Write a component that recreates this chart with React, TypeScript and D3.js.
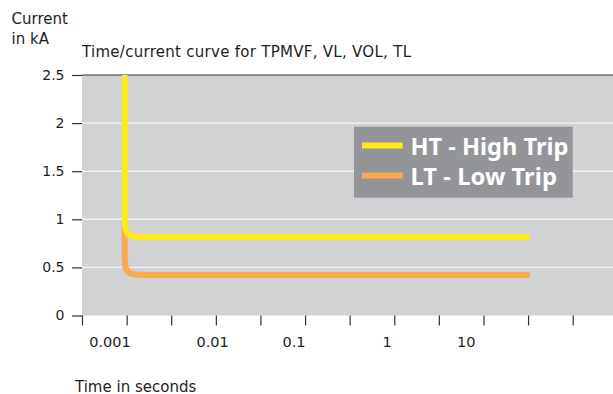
import * as React from 'react';
import * as d3 from 'd3';

// time axis: ticks every half decade, printed labels sit a little left of their ticks
const xTicks = [0.000316, 0.001, 0.00316, 0.01, 0.0316, 0.1, 0.316, 1, 3.16, 10, 31.6, 100];
const xLabels = ['0.001', '0.01', '0.1', '1', '10'];
const xLabelAt = [0.00065, 0.0092, 0.0753, 0.83, 6.4];
const yTicks = [0, 0.5, 1, 1.5, 2, 2.5];

// curves (time in s, current in kA), smoothed with a B-spline at the knee
const htTime = [0.00095, 0.00095, 0.00095, 0.00095, 0.00159, 0.00267, 33];
const htCurrent = [2.5, 1.232, 1.024, 0.816, 0.816, 0.816, 0.816];
const ltTime = [0.00095, 0.00095, 0.00095, 0.00095, 0.00159, 0.00267, 33];
const ltCurrent = [1.0, 0.837, 0.629, 0.421, 0.421, 0.421, 0.421];

const seriesNames = ['HT - High Trip', 'LT - Low Trip'];
const seriesColors = ['#ffe81c', '#f9a853'];
const legendWidths = [158, 146.5];

const W = 613;
const H = 394;
const margin = { top: 75, right: 0, bottom: 78.5, left: 82 };
const font = "'DejaVu Sans', 'Noto Sans', sans-serif";
const legendFont = "'Noto Sans', 'Open Sans', sans-serif";
const ink = '#1e1e1e';

export default function App() {
  const yAxisRef = React.useRef<SVGGElement>(null);
  const xAxisRef = React.useRef<SVGGElement>(null);

  const x = d3.scaleLog().domain([0.000316, 100]).range([margin.left, 572.7]);
  const y = d3.scaleLinear().domain([0, 2.5]).range([H - margin.bottom, margin.top]);

  React.useEffect(() => {
    const ya = d3.select(yAxisRef.current);
    ya.selectAll('*').remove();
    ya.call(
      d3.axisLeft(y).tickValues(yTicks).tickSize(10).tickPadding(7.5)
        .tickFormat((d) => String(d))
    );
    ya.select('.domain').remove();
    ya.selectAll('line').attr('stroke', '#333').attr('stroke-width', 1.2);
    ya.selectAll('text').attr('fill', ink).attr('font-size', 14).attr('font-family', font);

    const xa = d3.select(xAxisRef.current);
    xa.selectAll('*').remove();
    xa.call(d3.axisBottom(x).tickValues(xTicks).tickSize(10).tickFormat(() => ''));
    xa.select('.domain').remove();
    xa.selectAll('line').attr('stroke', '#333').attr('stroke-width', 1.2);
  }, []);

  const line = d3.line<[number, number]>()
    .x((d) => x(d[0]))
    .y((d) => y(d[1]))
    .curve(d3.curveBasis);

  const ht = htTime.map((t, i) => [t, htCurrent[i]] as [number, number]);
  const lt = ltTime.map((t, i) => [t, ltCurrent[i]] as [number, number]);

  const plotTop = y(2.5);
  const plotBottom = y(0);

  return (
    <svg width={W} height={H} style={{ position: 'absolute', left: 0, top: 0, display: 'block' }}
         fontFamily={font}>
      <rect x={margin.left} y={plotTop} width={W - margin.left} height={plotBottom - plotTop} fill="#d1d2d4" />
      {yTicks.filter((v) => v > 0 && v < 2.5).map((v) => (
        <line key={v} x1={margin.left} x2={W} y1={y(v)} y2={y(v)} stroke="#f4f4f4" strokeWidth={1.4} />
      ))}
      <line x1={margin.left} x2={W} y1={plotTop} y2={plotTop} stroke="#333" strokeWidth={1.2} />
      <g ref={yAxisRef} transform={`translate(${margin.left},0)`} />
      <g ref={xAxisRef} transform={`translate(0,${plotBottom})`} />

      <path d={line(lt) || ''} fill="none" stroke={seriesColors[1]} strokeWidth={6} />
      <path d={line(ht) || ''} fill="none" stroke={seriesColors[0]} strokeWidth={6} />

      {xLabels.map((lab, i) => (
        <text key={lab} x={x(xLabelAt[i])} y={346.7} textAnchor="middle" fontSize={14.5} fill={ink}>{lab}</text>
      ))}

      <text x={11.5} y={24} fontSize={15} fill={ink}>Current</text>
      <text x={11.5} y={44} fontSize={15} fill={ink}>in kA</text>
      <text x={82} y={57} fontSize={15} fill={ink} textLength={329} lengthAdjust="spacing">
        Time/current curve for TPMVF, VL, VOL, TL
      </text>
      <text x={75} y={391.5} fontSize={15} fill={ink}>Time in seconds</text>

      <g fontFamily={legendFont}>
        <rect x={354} y={126.7} width={218.7} height={71} fill="#939598" />
        {seriesNames.map((name, i) => (
          <g key={name}>
            <line x1={362} x2={402.7} y1={145.5 + i * 30} y2={145.5 + i * 30} stroke={seriesColors[i]} strokeWidth={6} />
            <text x={410.5} y={154.5 + i * 30.5} fontSize={23} fontWeight="bold" fill="#ffffff"
                  textLength={legendWidths[i]} lengthAdjust="spacingAndGlyphs">{name}</text>
          </g>
        ))}
      </g>
    </svg>
  );
}
